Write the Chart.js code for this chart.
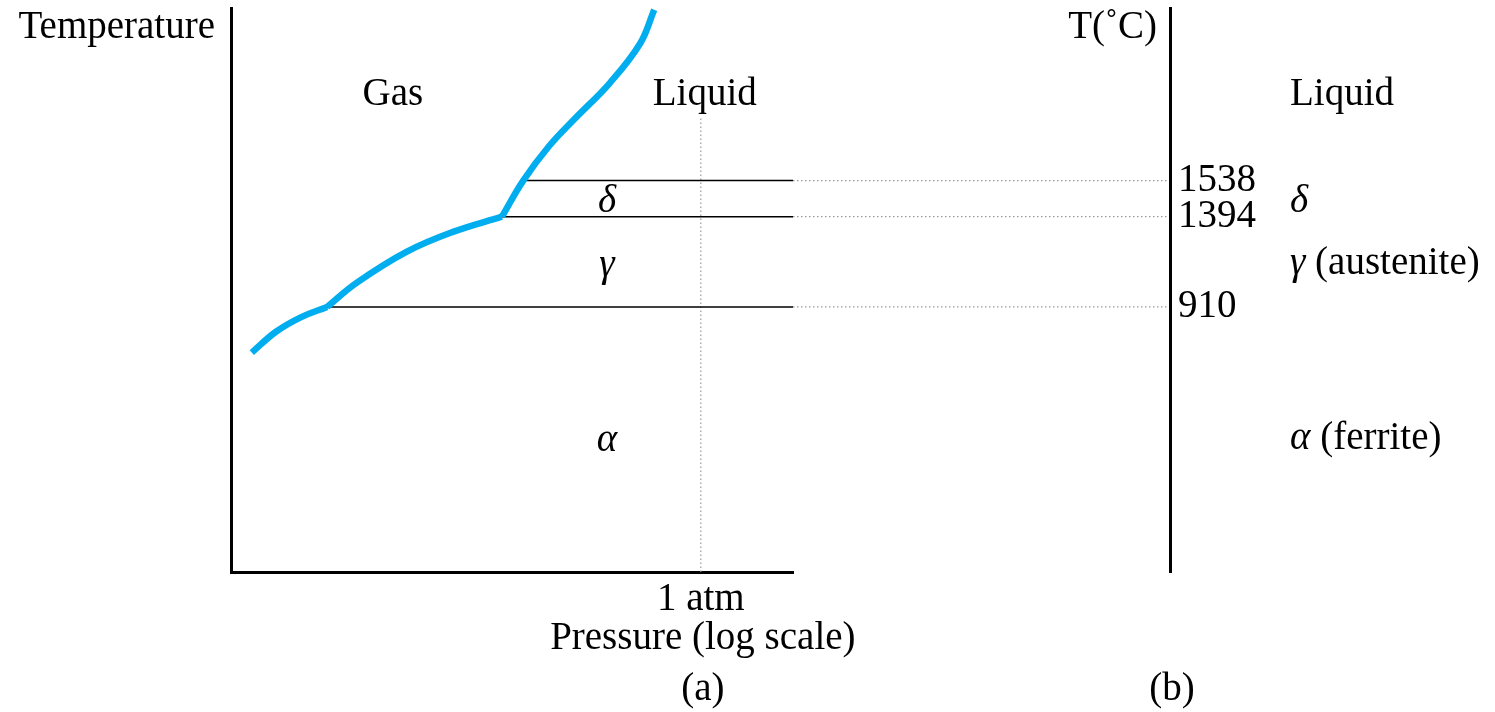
<!DOCTYPE html>
<html>
<head>
<meta charset="utf-8">
<script src="https://cdn.jsdelivr.net/npm/chart.js@4/dist/chart.umd.min.js"></script>
<style>
  body { margin: 0; background: #fff; }
  .wrap { position: relative; width: 1495px; height: 712px; }
  canvas { position: absolute; left: 0; top: 0; }
</style>
</head>
<body>
<div class="wrap">
  <canvas id="phaseA" width="1495" height="712"></canvas>
  <canvas id="phaseB" width="1495" height="712"></canvas>
</div>
<script>
// schematic units: log pressure 0-100, temperature 0-100 (not to scale)
const gasAlphaP = [3.7, 8.0, 12.5, 17.1];
const gasAlphaT = [38.9, 42.6, 45.2, 47.0];
const gasGammaP = [17.1, 22.4, 31.3, 39.5, 48.2];
const gasGammaT = [47.0, 51.3, 56.8, 60.3, 63.0];
const upperP = [48.2, 52.0, 56.5, 61.2, 67.4, 72.8, 75.3];
const upperT = [63.0, 69.4, 75.4, 80.4, 86.7, 93.7, 99.7];

const transitionTemps = [910, 1394, 1538];
const transitionLevels = [47.0, 63.0, 69.4];
const transitionStartP = [17.1, 48.2, 52.0];

const oneAtmP = 83.6;
const oneAtmTopT = 80.5;
const panelBP = 166.7;

const FONT = '"Liberation Serif", "Times New Roman", serif';
const FS = 39;

const pts = (xs, ys) => xs.map((x, i) => ({ x, y: ys[i] }));

const datasets = [];
[[gasAlphaP, gasAlphaT], [gasGammaP, gasGammaT], [upperP, upperT]].forEach(([p, t]) => {
  datasets.push({
    data: pts(p, t), showLine: true, borderColor: '#00aeef', borderWidth: 6.5,
    tension: 0.4, pointRadius: 0,
    borderCapStyle: 'butt', borderJoinStyle: 'round', clip: false
  });
});
transitionLevels.forEach((lv, i) => {
  datasets.push({
    data: [{ x: transitionStartP[i], y: lv }, { x: 100, y: lv }], showLine: true,
    borderColor: '#000', borderWidth: 1.5, pointRadius: 0
  });
  datasets.push({
    data: [{ x: 100, y: lv }, { x: panelBP, y: lv }], showLine: true,
    borderColor: '#9a9a9a', borderWidth: 1.2, borderDash: [1.5, 2.5], pointRadius: 0, clip: false
  });
});
datasets.push({
  data: [{ x: oneAtmP, y: 0 }, { x: oneAtmP, y: oneAtmTopT }], showLine: true,
  borderColor: '#9a9a9a', borderWidth: 1.2, borderDash: [1.5, 2.5], pointRadius: 0
});

// region labels, panel (a)
const regionLabels = [
  { text: 'Gas', p: 28.8, t: 82.8, italic: false },
  { text: 'Liquid', p: 84.3, t: 82.8, italic: false },
  { text: 'δ', p: 66.9, t: 63.8, italic: true },
  { text: 'γ', p: 66.9, t: 52.4, italic: true },
  { text: 'α', p: 66.9, t: 21.5, italic: true }
];

const textA = {
  id: 'textA',
  afterDraw(chart) {
    const { ctx, chartArea: a, scales: { x, y } } = chart;
    ctx.save();
    ctx.fillStyle = '#000';
    ctx.textBaseline = 'alphabetic';
    regionLabels.forEach(l => {
      ctx.font = (l.italic ? 'italic ' : '') + FS + 'px ' + FONT;
      ctx.textAlign = 'center';
      ctx.fillText(l.text, x.getPixelForValue(l.p), y.getPixelForValue(l.t));
    });
    ctx.font = FS + 'px ' + FONT;
    ctx.textAlign = 'right';
    ctx.fillText('Temperature', a.left - 16, a.top + 30);
    ctx.textAlign = 'center';
    const cx = x.getPixelForValue(oneAtmP) + 2;
    ctx.fillText('Pressure (log scale)', cx, a.bottom + 77);
    ctx.fillText('(a)', cx, a.bottom + 128);
    ctx.restore();
  }
};

new Chart(document.getElementById('phaseA'), {
  type: 'scatter',
  data: { datasets },
  options: {
    responsive: false,
    animation: false,
    layout: { padding: { left: 231, right: 702, top: 8, bottom: 80 } },
    plugins: { legend: { display: false }, tooltip: { enabled: false } },
    scales: {
      x: {
        type: 'linear', min: 0, max: 100,
        grid: { display: false, drawTicks: false },
        border: { display: true, width: 3, color: '#000' },
        afterBuildTicks: s => { s.ticks = [{ value: oneAtmP }]; },
        afterFit: s => { s.height = 60; s.paddingLeft = 0; s.paddingRight = 0; },
        ticks: {
          autoSkip: false, maxRotation: 0, padding: 4, color: '#000',
          font: { family: FONT, size: FS },
          callback: () => '1 atm'
        }
      },
      y: {
        type: 'linear', min: 0, max: 100,
        grid: { display: false, drawTicks: false },
        border: { display: true, width: 3, color: '#000' },
        ticks: { display: false },
        afterFit: s => { s.width = 0; s.paddingTop = 0; s.paddingBottom = 0; }
      }
    }
  },
  plugins: [textA]
});

// phase names, panel (b)
const phaseGreek = ['', 'δ', 'γ', 'α'];
const phaseNames = ['Liquid', '', ' (austenite)', ' (ferrite)'];
const phaseLevels = [82.8, 63.8, 52.8, 21.8];

const textB = {
  id: 'textB',
  afterDraw(chart) {
    const { ctx, chartArea: a, scales: { y } } = chart;
    ctx.save();
    ctx.fillStyle = '#000';
    ctx.textBaseline = 'alphabetic';
    ctx.textAlign = 'left';
    phaseLevels.forEach((lv, i) => {
      let px = a.left + 120;
      const py = y.getPixelForValue(lv);
      if (phaseGreek[i]) {
        ctx.font = 'italic ' + FS + 'px ' + FONT;
        ctx.fillText(phaseGreek[i], px, py);
        px += ctx.measureText(phaseGreek[i]).width;
      }
      ctx.font = FS + 'px ' + FONT;
      ctx.fillText(phaseNames[i], px, py);
    });
    ctx.font = FS + 'px ' + FONT;
    ctx.textAlign = 'right';
    ctx.fillText('T(˚C)', a.left - 13, a.top + 30);
    ctx.textAlign = 'center';
    ctx.fillText('(b)', a.left + 2, a.bottom + 128);
    ctx.restore();
  }
};

new Chart(document.getElementById('phaseB'), {
  type: 'scatter',
  data: { datasets: [] },
  options: {
    responsive: false,
    animation: false,
    layout: { padding: { left: 1170, right: 0, top: 8, bottom: 140 } },
    plugins: { legend: { display: false }, tooltip: { enabled: false } },
    scales: {
      x: { type: 'linear', min: 0, max: 100, display: false },
      y: {
        type: 'linear', min: 0, max: 100, position: 'left',
        grid: { display: false, drawTicks: false },
        border: { display: true, width: 3, color: '#000' },
        afterBuildTicks: s => { s.ticks = transitionLevels.map(v => ({ value: v })); },
        afterFit: s => { s.width = 0; s.paddingTop = 0; s.paddingBottom = 0; },
        ticks: {
          mirror: true, padding: 8, autoSkip: false, color: '#000',
          font: { family: FONT, size: FS },
          callback: (v, i) => String(transitionTemps[i])
        }
      }
    }
  },
  plugins: [textB]
});
</script>
</body>
</html>
